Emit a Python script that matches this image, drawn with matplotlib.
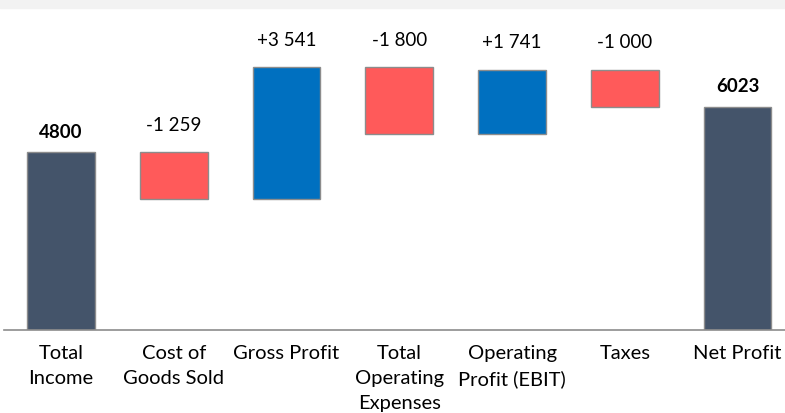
import matplotlib.pyplot as plt
from matplotlib.patches import Rectangle

categories = ['Total\nIncome', 'Cost of\nGoods Sold', 'Gross Profit', 'Total\nOperating\nExpenses',
              'Operating\nProfit (EBIT)', 'Taxes', 'Net Profit']
values = [4800, -1259, 3541, -1800, 1741, -1000, 6023]
kinds = ['total', 'neg', 'pos', 'neg', 'pos', 'neg', 'total']

colors = {'total': '#44546A', 'neg': '#FF5A5A', 'pos': '#0070C0'}

plt.rcParams['font.family'] = ['Lato', 'DejaVu Sans']

fig = plt.figure(figsize=(7.85, 4.14), dpi=100)
# light grey strip along the top
fig.patches.append(Rectangle((0, 1 - 9 / 414), 1, 9 / 414, transform=fig.transFigure,
                             color='#F2F2F2', zorder=0))
ax = fig.add_axes([4 / 785, (414 - 331) / 414, 1 - 4 / 785, (331 - 15) / 414])

level = 0
bottoms, heights = [], []
for v, k in zip(values, kinds):
    if k == 'total':
        bottoms.append(0)
        heights.append(v)
        level = v
    elif k == 'neg':
        bottoms.append(level + v)
        heights.append(-v)
        level += v
    else:
        bottoms.append(level)
        heights.append(v)
        level += v

x = list(range(len(values)))
ax.bar(x, heights, bottom=bottoms, width=0.6, color=[colors[k] for k in kinds],
       edgecolor='#8C8C8C', linewidth=1, zorder=2)

for i, (v, k) in enumerate(zip(values, kinds)):
    top = bottoms[i] + heights[i]
    if k == 'total':
        ax.annotate(str(v), (i, top), xytext=(0, 11), textcoords='offset points',
                    ha='center', va='baseline', fontsize=13.5, fontweight='bold')
    else:
        txt = f'{v:+,}'.replace(',', ' ')
        ax.annotate(txt, (i, top), xytext=(0, 16), textcoords='offset points',
                    ha='center', va='baseline', fontsize=13.5)

ax.set_xlim(-0.505, 6.42)
ax.set_ylim(0, 8520)
ax.set_xticks(x)
ax.set_xticklabels(categories, fontsize=14.5, linespacing=1.58)
ax.tick_params(axis='x', length=0, pad=10)
ax.set_yticks([])
for s in ['top', 'right', 'left']:
    ax.spines[s].set_visible(False)
ax.spines['bottom'].set_color('#8C8C8C')
ax.spines['bottom'].set_linewidth(1.2)

fig.savefig('out.png', dpi=100)
